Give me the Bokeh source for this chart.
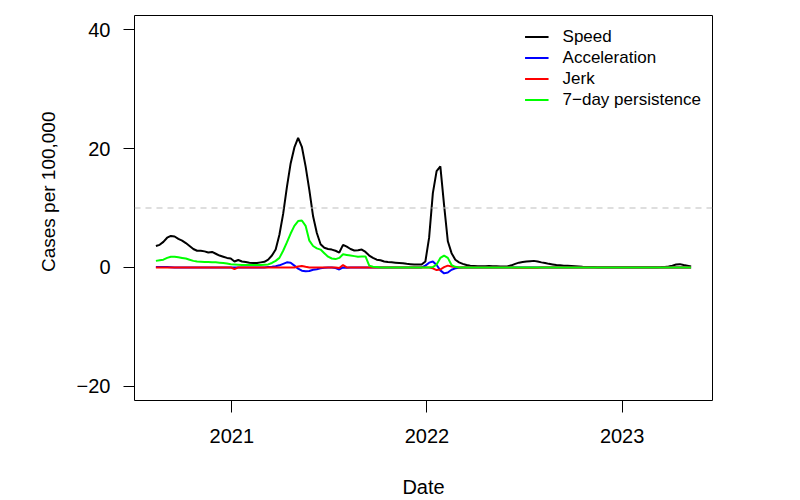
import pandas as pd
from bokeh.plotting import figure
from bokeh.models import (Span, FixedTicker, DatetimeTickFormatter, Legend,
                          LegendItem, Range1d, Title)
from bokeh.embed import file_html
from bokeh.resources import INLINE

# Weekly observations, Aug 2020 - May 2023
first_week = "2020-08-12"
n_weeks = 144
dates = pd.date_range(first_week, periods=n_weeks, freq="7D")

speed = [
    3.6, 3.8, 4.3, 5.0, 5.3, 5.2, 4.8, 4.5, 4.1, 3.6,
    3.1, 2.8, 2.8, 2.7, 2.5, 2.6, 2.3, 2.0, 1.8, 1.6,
    1.5, 1.0, 1.25, 1.0, 0.9, 0.8, 0.75, 0.75, 0.85, 0.95,
    1.3, 2.0, 3.0, 5.5, 9.0, 13.5, 17.5, 20.2, 21.8, 20.3,
    17.0, 13.0, 8.6, 5.8, 3.9, 3.3, 3.1, 3.0, 2.8, 2.5,
    3.8, 3.5, 3.1, 2.85, 2.9, 3.0, 2.6, 2.0, 1.6, 1.3,
    1.2, 1.0, 0.9, 0.85, 0.8, 0.75, 0.7, 0.6, 0.55, 0.5,
    0.5, 0.5, 1.0, 5.0, 12.5, 16.2, 17.0, 10.5, 4.4, 2.4,
    1.3, 0.85, 0.6, 0.4, 0.3, 0.25, 0.2, 0.2, 0.2, 0.25,
    0.2, 0.2, 0.15, 0.15, 0.2, 0.35, 0.6, 0.8, 0.9, 1.0,
    1.05, 1.1, 1.0, 0.85, 0.75, 0.6, 0.5, 0.4, 0.35, 0.3,
    0.3, 0.25, 0.2, 0.15, 0.1, 0.08, 0.06, 0.05, 0.04, 0.03,
    0.03, 0.02, 0.02, 0.02, 0.02, 0.02, 0.02, 0.02, 0.02, 0.02,
    0.02, 0.02, 0.03, 0.03, 0.04, 0.05, 0.08, 0.15, 0.3, 0.5,
    0.55, 0.4, 0.3, 0.15,
]

acceleration = [
    0.05, 0.05, 0.05, 0.05, 0.03, 0.0, 0.0, 0.0, 0.0, 0.0,
    0.0, 0.0, 0.0, 0.0, 0.0, 0.0, 0.0, 0.0, 0.0, 0.0,
    0.0, 0.0, 0.0, 0.0, 0.0, 0.0, 0.0, 0.0, 0.0, 0.0,
    0.05, 0.1, 0.2, 0.35, 0.6, 0.85, 0.8, 0.3, -0.2, -0.55,
    -0.65, -0.6, -0.4, -0.3, -0.15, -0.05, 0.0, 0.0, -0.1, -0.35,
    0.0, -0.05, 0.0, 0.0, 0.0, 0.0, 0.0, 0.0, 0.0, 0.0,
    0.0, 0.0, 0.0, 0.0, 0.0, 0.0, 0.0, 0.0, 0.0, 0.0,
    0.0, 0.0, 0.3, 0.8, 1.0, 0.4, -0.5, -1.0, -0.85, -0.4,
    -0.15, -0.05, 0.0, 0.0, 0.0, 0.0, 0.0, 0.0, 0.0, 0.0,
    0.0, 0.0, 0.0, 0.0, 0.0, 0.0, 0.0, 0.0, 0.0, 0.0,
    0.0, 0.0, 0.0, 0.0, 0.0, 0.0, 0.0, 0.0, 0.0, 0.0,
    0.0, 0.0, 0.0, 0.0, 0.0, 0.0, 0.0, 0.0, 0.0, 0.0,
    0.0, 0.0, 0.0, 0.0, 0.0, 0.0, 0.0, 0.0, 0.0, 0.0,
    0.0, 0.0, 0.0, 0.0, 0.0, 0.0, 0.0, 0.0, 0.0, 0.0,
    0.0, 0.0, 0.0, 0.0,
]

jerk = [
    0.0, 0.0, 0.0, 0.0, 0.0, 0.0, 0.0, 0.0, 0.0, 0.0,
    0.0, 0.0, 0.0, 0.0, 0.0, 0.0, 0.0, 0.0, 0.0, 0.0,
    0.0, -0.3, 0.0, 0.0, 0.0, 0.0, 0.0, 0.0, 0.0, 0.0,
    0.0, 0.0, 0.0, 0.0, 0.0, 0.0, 0.0, 0.0, 0.15, 0.25,
    0.1, 0.0, 0.0, 0.0, 0.0, 0.0, 0.0, 0.0, 0.0, -0.1,
    0.4, 0.0, 0.0, 0.0, 0.0, 0.0, 0.0, 0.0, 0.0, 0.0,
    0.0, 0.0, 0.0, 0.0, 0.0, 0.0, 0.0, 0.0, 0.0, 0.0,
    0.0, 0.0, 0.0, 0.0, -0.15, -0.45, -0.35, 0.05, 0.3, 0.15,
    0.05, 0.0, 0.0, 0.0, 0.0, 0.0, 0.0, 0.0, 0.0, 0.0,
    0.0, 0.0, 0.0, 0.0, 0.0, 0.0, -0.05, -0.05, -0.05, -0.05,
    -0.05, -0.05, -0.05, 0.0, 0.0, 0.0, 0.0, 0.0, 0.0, 0.0,
    0.0, 0.0, 0.0, 0.0, 0.0, 0.0, 0.0, 0.0, 0.0, 0.0,
    0.0, 0.0, 0.0, 0.0, 0.0, 0.0, 0.0, 0.0, 0.0, 0.0,
    0.0, 0.0, 0.0, 0.0, 0.0, 0.0, 0.0, 0.0, 0.0, 0.0,
    0.0, 0.0, 0.0, 0.0,
]

persistence = [
    1.1, 1.2, 1.3, 1.6, 1.8, 1.8, 1.7, 1.6, 1.5, 1.3,
    1.1, 1.0, 0.95, 0.9, 0.9, 0.85, 0.85, 0.8, 0.75, 0.65,
    0.55, 0.5, 0.45, 0.4, 0.4, 0.4, 0.4, 0.4, 0.4, 0.45,
    0.5, 0.75, 1.1, 1.6, 2.8, 4.2, 5.7, 7.0, 7.8, 7.9,
    7.0, 4.5, 3.6, 3.2, 3.0, 2.4, 1.8, 1.5, 1.4, 1.6,
    2.2, 2.1, 2.0, 1.9, 1.8, 1.85, 1.85, 0.3, 0.1, 0.05,
    0.0, 0.0, 0.0, 0.0, 0.0, 0.0, 0.0, 0.0, 0.0, 0.0,
    0.0, 0.0, 0.0, 0.0, 0.05, 0.5, 1.6, 2.0, 1.6, 0.4,
    0.1, 0.0, 0.0, 0.0, 0.0, 0.0, 0.0, 0.0, 0.0, 0.0,
    0.0, 0.0, 0.0, 0.0, 0.0, 0.0, 0.0, 0.0, 0.0, 0.0,
    0.0, 0.0, 0.0, 0.0, 0.0, 0.0, 0.0, 0.0, 0.0, 0.0,
    0.0, 0.0, 0.0, 0.0, 0.0, 0.0, 0.0, 0.0, 0.0, 0.0,
    0.0, 0.0, 0.0, 0.0, 0.0, 0.0, 0.0, 0.0, 0.0, 0.0,
    0.0, 0.0, 0.0, 0.0, 0.0, 0.0, 0.0, 0.0, 0.0, 0.0,
    0.0, 0.0, 0.0, 0.0,
]

threshold = 10
y_ticks = [-20, 0, 20, 40]
year_ticks = ["2021-01-01", "2022-01-01", "2023-01-01"]
series_labels = ["Speed", "Acceleration", "Jerk", "7\u2212day persistence"]
series_colors = ["black", "#0000FF", "#FF0000", "#00FF00"]

FONT = "Liberation Sans"

# axis limits with a 4% pad on each side
d0, d1 = dates[0], dates[-1]
pad = (d1 - d0) * 0.04
x_range = Range1d(start=d0 - pad, end=d1 + pad)
ypad = (max(y_ticks) - min(y_ticks)) * 0.04
y_range = Range1d(start=min(y_ticks) - ypad, end=max(y_ticks) + ypad)

p = figure(frame_width=578, frame_height=385,
           min_border_left=134, min_border_right=88,
           min_border_top=15, min_border_bottom=100,
           x_axis_type="datetime", x_range=x_range, y_range=y_range,
           output_backend="svg", toolbar_location=None)

p.background_fill_color = "white"
p.border_fill_color = "white"
p.xgrid.visible = False
p.ygrid.visible = False
p.outline_line_color = "black"
p.outline_line_width = 1
p.outline_line_alpha = 1

for ax in (p.xaxis[0], p.yaxis[0]):
    ax.axis_line_color = None
    ax.minor_tick_line_color = None
    ax.major_tick_in = 0
    ax.major_tick_line_color = "black"
    ax.major_label_text_font = FONT
    ax.major_label_text_font_size = "20px"
    ax.major_label_text_color = "black"

p.yaxis.ticker = FixedTicker(ticks=y_ticks)
p.yaxis.major_label_overrides = {t: str(t).replace("-", "\u2212") for t in y_ticks}
p.yaxis.major_tick_out = 11
p.yaxis.major_label_standoff = 13

p.xaxis.ticker = FixedTicker(
    ticks=[pd.Timestamp(t).value / 1e6 for t in year_ticks])
p.xaxis.formatter = DatetimeTickFormatter(years="%Y", months="%Y",
                                          days="%Y", hours="%Y")
p.xaxis.major_tick_out = 12
p.xaxis.major_label_standoff = 16
p.xaxis.axis_label = "Date"
p.xaxis.axis_label_text_font = FONT
p.xaxis.axis_label_text_font_size = "20px"
p.xaxis.axis_label_text_font_style = "normal"
p.xaxis.axis_label_text_color = "black"
p.xaxis.axis_label_standoff = 30

# y-axis title, its top end placed a fixed distance below the frame top
ytitle = Title(text="Cases per 100,000", align="right", offset=96,
               standoff=30, text_font=FONT, text_font_size="19px",
               text_font_style="normal", text_color="black")
p.add_layout(ytitle, "left")

p.add_layout(Span(location=threshold, dimension="width",
                  line_color="#bdbdbd", line_dash="6 5", line_width=1.2))

renderers = []
for vals, col in zip([speed, acceleration, jerk, persistence], series_colors):
    r = p.line(dates, vals, line_color=col, line_width=2)
    renderers.append(r)

legend = Legend(items=[LegendItem(label=lab, renderers=[r])
                       for lab, r in zip(series_labels, renderers)],
                location="top_right", border_line_color=None,
                background_fill_alpha=0, label_text_font=FONT,
                label_text_font_size="17px", label_text_color="black",
                glyph_width=24, glyph_height=21, label_height=21,
                spacing=0, padding=0, margin=11, label_standoff=14)
p.add_layout(legend)

open("out.html", "w").write(file_html(p, INLINE))
